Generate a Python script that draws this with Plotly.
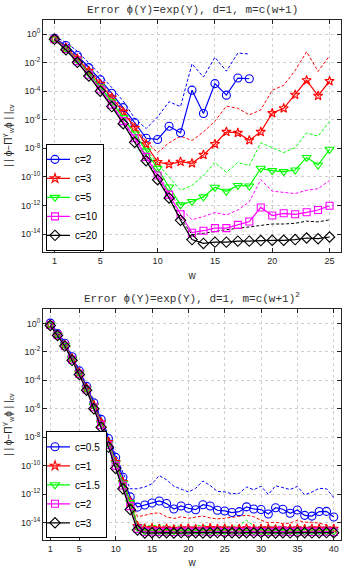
import plotly.graph_objects as go
import numpy as np

# ---------------- data (log10 of the error) ----------------
# top panel: m = c(w+1)
w_top = list(range(1, 26))
w_top_c2 = list(range(1, 19))
top_labels = ["c=2", "c=3", "c=5", "c=10", "c=20"]

top_c2_solid = [-0.3, -0.8, -1.5, -2.35, -3.2, -4.15, -5.15, -6.2, -7.3, -7.38, -6.46, -6.92,
                -3.93, -5.56, -3.47, -4.28, -3.08, -3.13]
top_c2_dash = [-0.15, -0.6, -1.2, -2.0, -2.85, -3.75, -4.7, -5.9, -6.62, -5.8, -4.74, -5.08,
               -2.09, -3.01, -1.63, -2.6, -1.33, -1.4]

top_c3_solid = [-0.33, -0.95, -1.72, -2.58, -3.5, -4.45, -5.45, -6.57, -7.72, -8.96, -9.12, -8.94,
                -9.05, -8.46, -7.7, -6.85, -6.92, -7.44, -6.85, -5.54, -5.2, -4.25, -3.24, -4.32, -3.3]
top_c3_dash = [-0.25, -0.85, -1.6, -2.45, -3.35, -4.3, -5.3, -6.42, -7.55, -8.3, -7.61, -7.15,
               -7.45, -6.85, -6.1, -5.05, -5.2, -5.66, -5.31, -3.93, -3.59, -2.55, -1.24, -2.62, -1.52]

top_c5_solid = [-0.35, -1.0, -1.83, -2.75, -3.72, -4.75, -5.85, -7.0, -8.18, -9.4, -10.71, -11.96,
                -11.72, -11.4, -10.73, -11.01, -10.6, -10.64, -9.4, -9.56, -9.63, -9.52, -8.64, -9.17, -8.07]
top_c5_dash = [-0.3, -0.95, -1.78, -2.68, -3.65, -4.65, -5.75, -6.9, -8.05, -9.1, -10.02, -10.94,
               -10.6, -9.91, -8.99, -9.68, -8.99, -9.22, -7.61, -7.95, -8.3, -7.95, -6.92, -7.15, -6.12]

top_c10_solid = [-0.36, -1.05, -1.9, -2.85, -3.88, -4.95, -6.1, -7.3, -8.6, -9.9, -11.24, -12.62,
                 -13.91, -13.77, -13.59, -13.59, -13.36, -13.13, -12.14, -12.71, -12.55, -12.62, -12.48, -12.32, -12.02]
top_c10_dash = [-0.33, -1.0, -1.85, -2.8, -3.82, -4.88, -6.0, -7.2, -8.45, -9.75, -11.05, -12.2,
                -13.0, -12.78, -12.5, -12.67, -12.32, -11.75, -10.2, -11.0, -11.06, -11.17, -10.94, -10.83, -10.25]

top_c20_solid = [-0.37, -1.1, -1.98, -2.94, -4.0, -5.08, -6.28, -7.58, -8.87, -10.2, -11.48, -13.04,
                 -14.39, -14.66, -14.57, -14.57, -14.5, -14.5, -14.46, -14.44, -14.44, -14.39, -14.28, -14.33, -14.21]
top_c20_dash = [-0.35, -1.07, -1.95, -2.9, -3.96, -5.03, -6.22, -7.5, -8.8, -10.1, -11.4, -12.9,
                -14.05, -13.95, -13.8, -13.7, -13.6, -13.5, -13.45, -13.3, -13.3, -13.25, -13.1, -13.15, -13.01]

# bottom panel: m = c(w+1)^2
w_bot = list(range(1, 41))
bot_labels = ["c=0.5", "c=1", "c=1.5", "c=2", "c=3"]

bot_c05_solid = [0.02, -0.72, -1.4, -2.35, -3.34, -4.43, -5.59, -6.75, -8.1, -9.42, -10.82, -12.2, -12.92,
                 -12.77, -12.63, -12.49, -12.67, -13.05, -12.84, -13.0, -13.1, -12.75, -12.84, -13.14, -13.19,
                 -13.3, -13.24, -12.9, -13.05, -13.09, -13.4, -12.96, -13.07, -13.35, -13.12, -13.5, -13.55,
                 -13.23, -13.22, -13.62]
bot_c05_dash = [0.1, -0.6, -1.3, -2.25, -3.22, -4.3, -5.45, -6.6, -7.9, -9.2, -10.5, -11.63, -11.63,
                -11.5, -11.28, -10.7, -11.0, -11.45, -11.63, -11.85, -11.6, -11.08, -11.4, -11.82, -11.85,
                -11.98, -11.95, -11.5, -11.7, -11.45, -12.03, -11.42, -11.55, -11.68, -11.47, -12.05, -11.86,
                -11.6, -11.63, -12.25]

bot_c1_solid = [-0.08, -0.78, -1.5, -2.45, -3.45, -4.55, -5.75, -6.95, -8.35, -9.75, -11.15, -12.55, -14.25,
                -14.42, -14.4, -14.45, -14.42, -14.48, -14.45, -14.42, -14.47, -14.44, -14.4, -14.46, -14.43,
                -14.48, -14.45, -14.42, -14.47, -14.45, -14.43, -14.48, -14.44, -14.46, -14.42, -14.47, -14.45,
                -14.43, -14.46, -14.44]
bot_c1_dash = [-0.03, -0.72, -1.45, -2.38, -3.38, -4.48, -5.68, -6.88, -8.25, -9.65, -11.0, -12.2, -13.6,
               -13.49, -13.37, -13.32, -13.6, -13.72, -13.6, -13.7, -13.65, -13.55, -13.68, -13.75, -13.7,
               -13.65, -13.56, -13.49, -13.6, -13.84, -14.02, -13.98, -14.07, -14.05, -13.84, -13.98, -13.98,
               -14.05, -14.18, -14.42]

bot_c15_solid = [-0.1, -0.8, -1.53, -2.5, -3.5, -4.6, -5.8, -7.05, -8.45, -9.85, -11.25, -12.6, -14.35,
                 -14.62, -14.58, -14.6, -14.63, -14.58, -14.6, -14.62, -14.59, -14.6, -14.63, -14.58, -14.61,
                 -14.6, -14.62, -14.59, -14.6, -14.63, -14.58, -14.6, -14.62, -14.6, -14.59, -14.63, -14.6,
                 -14.58, -14.61, -14.6]
bot_c15_dash = [-0.05, -0.75, -1.48, -2.44, -3.44, -4.54, -5.74, -6.98, -8.38, -9.75, -11.28, -12.3, -14.1,
                -14.2, -14.25, -14.15, -14.3, -14.22, -14.28, -14.3, -14.25, -14.2, -14.3, -14.28, -14.25,
                -14.3, -14.22, -13.84, -14.25, -14.3, -14.28, -14.25, -14.3, -14.28, -14.32, -14.25, -14.3,
                -14.35, -14.3, -14.32]

bot_c2_solid = [-0.12, -0.82, -1.57, -2.55, -3.55, -4.65, -5.9, -7.15, -8.55, -10.0, -11.4, -12.85, -14.45,
                -14.66, -14.64, -14.66, -14.65, -14.67, -14.64, -14.66, -14.65, -14.63, -14.66, -14.65, -14.67,
                -14.64, -14.66, -14.65, -14.64, -14.66, -14.67, -14.65, -14.64, -14.66, -14.65, -14.63, -14.66,
                -14.65, -14.64, -14.66]
bot_c2_dash = [-0.08, -0.78, -1.52, -2.5, -3.5, -4.6, -5.84, -7.08, -8.48, -9.92, -11.3, -12.7, -14.15,
               -14.3, -14.28, -14.32, -14.3, -14.35, -14.3, -14.28, -14.33, -14.3, -14.32, -14.28, -14.3,
               -14.35, -14.3, -14.28, -14.32, -14.3, -14.33, -14.3, -14.28, -14.32, -14.3, -14.35, -14.3,
               -14.32, -14.3, -14.33]

bot_c3_solid = [-0.15, -0.85, -1.6, -2.6, -3.6, -4.7, -6.0, -7.3, -8.7, -10.2, -11.63, -13.09, -14.53,
                -14.74, -14.72, -14.73, -14.72, -14.74, -14.71, -14.73, -14.72, -14.74, -14.72, -14.71, -14.73,
                -14.72, -14.74, -14.72, -14.73, -14.71, -14.72, -14.74, -14.72, -14.73, -14.71, -14.72, -14.73,
                -14.72, -14.71, -14.72]
bot_c3_dash = [-0.12, -0.82, -1.56, -2.55, -3.55, -4.65, -5.94, -7.22, -8.62, -10.1, -11.5, -12.95, -14.3,
               -14.38, -14.36, -14.4, -14.37, -14.35, -14.38, -14.4, -14.36, -14.37, -14.38, -14.35, -14.4,
               -14.37, -14.36, -14.38, -14.35, -14.37, -14.4, -14.36, -14.38, -14.37, -14.35, -14.38, -14.36,
               -14.37, -14.35, -14.36]

# ---------------- styling ----------------
colors = ["#0000ff", "#ff0000", "#00ff00", "#ff00ff", "#000000"]
symbols = ["circle-open", "star-open", "triangle-down-open", "square-open", "diamond-open"]
marker_sizes = [8, 7, 8, 7, 8]

top_series = [
    (w_top_c2, top_c2_solid, top_c2_dash),
    (w_top, top_c3_solid, top_c3_dash),
    (w_top, top_c5_solid, top_c5_dash),
    (w_top, top_c10_solid, top_c10_dash),
    (w_top, top_c20_solid, top_c20_dash),
]
bot_series = [
    (w_bot, bot_c05_solid, bot_c05_dash),
    (w_bot, bot_c1_solid, bot_c1_dash),
    (w_bot, bot_c15_solid, bot_c15_dash),
    (w_bot, bot_c2_solid, bot_c2_dash),
    (w_bot, bot_c3_solid, bot_c3_dash),
]

fig = go.Figure()


def add_panel(series, labels, xa, ya, legend_name):
    # dashed companions first
    for (ws, s, d), col in zip(series, colors):
        fig.add_trace(go.Scatter(
            x=ws, y=np.power(10.0, d), mode="lines", xaxis=xa, yaxis=ya,
            line=dict(color=col, width=1, dash="3px,2px"), showlegend=False,
            hoverinfo="skip"))
    for (ws, s, d), col, sym, ms, lab in zip(series, colors, symbols, marker_sizes, labels):
        fig.add_trace(go.Scatter(
            x=ws, y=np.power(10.0, s), mode="lines+markers", xaxis=xa, yaxis=ya,
            name=lab, legend=legend_name,
            line=dict(color=col, width=1.2),
            marker=dict(symbol=sym, size=ms, color=col, line=dict(color=col, width=1.1))))


add_panel(top_series, top_labels, "x", "y", "legend")
add_panel(bot_series, bot_labels, "x2", "y2", "legend2")

W, H = 347, 568
xdom = [43 / W, 341 / W]
ydom_top = [1 - 255 / H, 1 - 20 / H]
ydom_bot = [1 - 547 / H, 1 - 313 / H]

ytickvals = [10.0 ** k for k in range(0, -15, -2)]
yticktext = ["10<sup>%d</sup>" % k if k == 0 else "10<sup>-%d</sup>" % (-k) for k in range(0, -15, -2)]

tickfont = dict(family="Liberation Sans, Arial, sans-serif", size=9, color="#262626")
common_x = dict(showgrid=True, gridcolor="#cfcfcf", griddash="dot", gridwidth=1,
                showline=True, linecolor="#262626", linewidth=1, mirror="ticks",
                ticks="inside", ticklen=4, tickcolor="#262626", tickfont=tickfont,
                zeroline=False)
common_y = dict(common_x, type="log", range=[-15.25, 1], tickvals=ytickvals, ticktext=yticktext)

ytitle = "| | ϕ−Π<sup>Y</sup><sub>w</sub>ϕ | |<sub>cv</sub>"
axis_title_font = dict(family="Liberation Sans, Arial, sans-serif", size=10, color="#262626")
legend_font = dict(family="Liberation Sans, Arial, sans-serif", size=10, color="#000000")

fig.update_layout(
    width=W, height=H, margin=dict(l=0, r=0, t=0, b=0),
    paper_bgcolor="white", plot_bgcolor="white",
    xaxis=dict(common_x, domain=xdom, anchor="y", range=[0, 26], tickvals=[1, 5, 10, 15, 20, 25],
               title=dict(text="w", font=axis_title_font, standoff=7)),
    yaxis=dict(common_y, domain=ydom_top, anchor="x",
               title=dict(text=ytitle, font=axis_title_font, standoff=6)),
    xaxis2=dict(common_x, domain=xdom, anchor="y2", range=[0, 41],
                tickvals=[1, 5, 10, 15, 20, 25, 30, 35, 40],
                title=dict(text="w", font=axis_title_font, standoff=7)),
    yaxis2=dict(common_y, domain=ydom_bot, anchor="x2",
                title=dict(text=ytitle, font=axis_title_font, standoff=6)),
    legend=dict(x=46 / W, y=1 - 254 / H, xanchor="left", yanchor="bottom",
                bgcolor="white", bordercolor="#000000", borderwidth=1,
                font=legend_font, tracegroupgap=0, itemwidth=30, indentation=-12),
    legend2=dict(x=46 / W, y=1 - 545 / H, xanchor="left", yanchor="bottom",
                 bgcolor="white", bordercolor="#000000", borderwidth=1,
                 font=legend_font, tracegroupgap=0, itemwidth=30, indentation=-12),
    annotations=[
        dict(text="Error ϕ(Y)=exp(Y), d=1, m=c(w+1)", x=(xdom[0] + xdom[1]) / 2, y=1 - 10 / H,
             xref="paper", yref="paper", xanchor="center", yanchor="middle", showarrow=False,
             font=dict(family="Liberation Mono, Courier New, monospace", size=11, color="#333333")),
        dict(text="Error ϕ(Y)=exp(Y), d=1, m=c(w+1)<sup>2</sup>", x=(xdom[0] + xdom[1]) / 2,
             y=1 - 302 / H, xref="paper", yref="paper", xanchor="center", yanchor="middle",
             showarrow=False,
             font=dict(family="Liberation Mono, Courier New, monospace", size=11, color="#333333")),
    ],
)

fig.write_html("out.html")
